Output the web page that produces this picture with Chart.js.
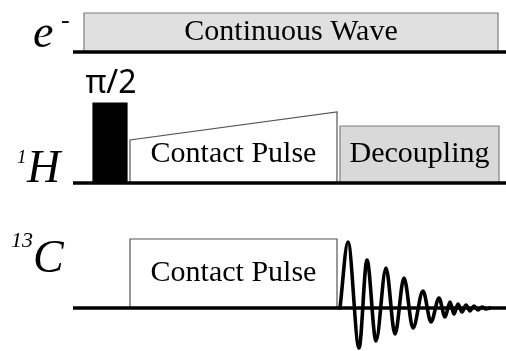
<!DOCTYPE html>
<html>
<head>
<meta charset="utf-8">
<script src="https://cdn.jsdelivr.net/npm/chart.js@4"></script>
<style>
  html, body { margin: 0; padding: 0; background: #fff; }
  canvas { display: block; }
</style>
</head>
<body>
<canvas id="seq" width="506" height="351"></canvas>
<script>
// pulse sequence: e- CW, 1H pi/2 + ramped CP + decoupling, 13C CP + FID
// time axis 0..506, level axis 0..351 (up)
const channelNames = ['e', 'H', 'C'];
const channelBase = [299, 168, 43];
const lineStart = 73, lineEnd = 506;

const pulseNames = ['Continuous Wave', 'π/2', 'Contact Pulse', 'Decoupling', 'Contact Pulse'];
const pulseChannel = [0, 1, 1, 1, 2];
const pulseStart = [84, 93, 130, 340, 130];
const pulseEnd = [498, 127, 337, 499, 337];
const pulseHeightStart = [39, 80, 43, 57, 69];
const pulseHeightEnd = [39, 80, 71, 57, 69];
const pulseFill = ['#e0e0e0', '#000000', '#ffffff', '#d9d9d9', '#ffffff'];
const pulseEdge = ['#7f7f7f', '#000000', '#555555', '#7f7f7f', '#555555'];

// FID on 13C (extrema, relative to the baseline)
const fidTime = [340, 348, 359, 367, 376, 386, 395, 404, 413, 423, 431, 439, 445, 450, 454, 458, 462, 466, 470, 474, 478, 482, 486, 490];
const fidAmp  = [0, 66, -40, 48, -33, 40, -26, 30, -20, 17, -14, 10, -9, 6, -6, 4, -4, 3, -3, 2, -2, 1, -1, 0];

const serif = '"Liberation Serif", "Times New Roman", serif';

const datasets = [];
channelBase.forEach(function (b) {
  datasets.push({
    data: [{x: lineStart, y: b}, {x: lineEnd, y: b}],
    showLine: true, borderColor: '#000', borderWidth: 3.5, pointRadius: 0, fill: false
  });
});
datasets.push({
  data: fidTime.map(function (t, i) { return {x: t, y: channelBase[2] + fidAmp[i]}; }),
  showLine: true, borderColor: '#000', borderWidth: 3.6, pointRadius: 0, fill: false,
  cubicInterpolationMode: 'monotone', borderJoinStyle: 'round', borderCapStyle: 'round'
});
pulseNames.forEach(function (name, i) {
  const b = channelBase[pulseChannel[i]];
  datasets.push({
    data: [
      {x: pulseStart[i], y: b},
      {x: pulseStart[i], y: b + pulseHeightStart[i]},
      {x: pulseEnd[i], y: b + pulseHeightEnd[i]},
      {x: pulseEnd[i], y: b}
    ],
    showLine: true, borderColor: pulseEdge[i], borderWidth: 1.2, pointRadius: 0,
    backgroundColor: pulseFill[i], fill: {value: b}, tension: 0
  });
});

const labelPlugin = {
  id: 'labels',
  afterDatasetsDraw(chart) {
    const ctx = chart.ctx, xs = chart.scales.x, ys = chart.scales.y;
    ctx.save();
    ctx.fillStyle = '#000';
    // pulse names
    pulseNames.forEach(function (name, i) {
      const b = channelBase[pulseChannel[i]];
      const cx = xs.getPixelForValue((pulseStart[i] + pulseEnd[i]) / 2);
      if (name === 'π/2') {
        ctx.font = '32px "Noto Sans", sans-serif';
        ctx.textAlign = 'center';
        ctx.textBaseline = 'alphabetic';
        ctx.fillText(name, cx + 1, ys.getPixelForValue(b + pulseHeightStart[i]) - 10);
        return;
      }
      const h = Math.min(pulseHeightStart[i], pulseHeightEnd[i]);
      ctx.font = '30px ' + serif;
      ctx.textAlign = 'center';
      ctx.textBaseline = 'middle';
      let cy = ys.getPixelForValue(b + h / 2);
      if (pulseChannel[i] === 1 && pulseHeightStart[i] !== pulseHeightEnd[i]) cy -= 7;
      ctx.fillText(name, cx, cy);
    });
    // channel labels
    ctx.textAlign = 'left';
    ctx.textBaseline = 'alphabetic';
    const p0 = ys.getPixelForValue(channelBase[0]);
    ctx.font = 'italic 46px ' + serif;
    ctx.fillText('e', 33, p0 - 5);
    ctx.font = '26px ' + serif;
    ctx.fillText('-', 61, p0 - 24);
    const p1 = ys.getPixelForValue(channelBase[1]);
    ctx.font = 'italic 46px ' + serif;
    ctx.fillText('H', 27, p1 - 1);
    ctx.font = 'italic 19px ' + serif;
    ctx.fillText('1', 17, p1 - 20);
    const p2 = ys.getPixelForValue(channelBase[2]);
    ctx.font = 'italic 46px ' + serif;
    ctx.fillText('C', 33, p2 - 36);
    ctx.font = 'italic 22px ' + serif;
    ctx.fillText('13', 11, p2 - 61);
    ctx.restore();
  }
};

new Chart(document.getElementById('seq'), {
  type: 'scatter',
  data: { datasets: datasets },
  options: {
    responsive: false,
    animation: false,
    devicePixelRatio: 1,
    layout: { padding: 0 },
    plugins: { legend: { display: false }, tooltip: { enabled: false } },
    scales: {
      x: { type: 'linear', min: 0, max: 506, display: false },
      y: { type: 'linear', min: 0, max: 351, display: false }
    }
  },
  plugins: [labelPlugin]
});
</script>
</body>
</html>
